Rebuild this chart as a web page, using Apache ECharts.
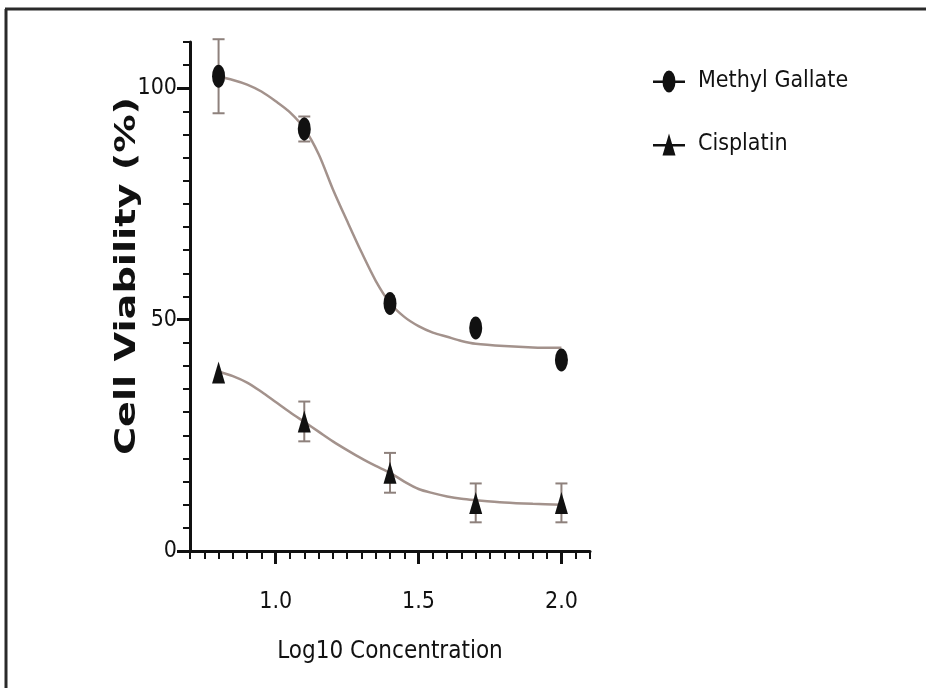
<!DOCTYPE html>
<html>
<head>
<meta charset="utf-8">
<script src="https://cdn.jsdelivr.net/npm/echarts@6/dist/echarts.min.js"></script>
<style>
  html, body { margin: 0; padding: 0; background: #fff; }
  #chart { width: 926px; height: 688px; }
</style>
</head>
<body>
<div id="chart"></div>
<script>
// ---- data ----
const seriesNames = ['Methyl Gallate', 'Cisplatin'];
const xValues = [0.8, 1.1, 1.4, 1.7, 2.0];
const mgMean = [102.6, 91.2, 53.5, 48.2, 41.3];
const mgErr  = [8.0, 2.7, 0, 0, 0];
const cisMean = [38.6, 28.0, 16.9, 10.4, 10.4];
const cisErr  = [0, 4.3, 4.3, 4.2, 4.2];

// fitted curves
const mgCurveX = [0.8, 0.85, 0.9, 0.95, 1.0, 1.05, 1.1, 1.15, 1.2, 1.25, 1.3, 1.35, 1.4, 1.45, 1.5, 1.55, 1.6, 1.65, 1.7, 1.8, 1.9, 2.0];
const mgCurveY = [102.5, 101.8, 100.8, 99.3, 97.2, 94.8, 91.3, 85.8, 78.2, 71.3, 64.6, 58.4, 53.6, 50.6, 48.6, 47.2, 46.3, 45.4, 44.8, 44.3, 44.0, 43.9];
const cisCurveX = [0.8, 0.85, 0.9, 0.95, 1.0, 1.05, 1.1, 1.15, 1.2, 1.25, 1.3, 1.35, 1.4, 1.45, 1.5, 1.55, 1.6, 1.65, 1.7, 1.8, 1.9, 2.0];
const cisCurveY = [38.8, 37.8, 36.4, 34.4, 32.2, 30.0, 27.9, 25.8, 23.7, 21.8, 20.0, 18.4, 16.9, 15.0, 13.4, 12.5, 11.8, 11.3, 11.0, 10.5, 10.2, 10.0];

// axis ticks
const xMajorTicks = [1.0, 1.5, 2.0];
const yMajorTicks = [0, 50, 100];
const xMin = 0.7, xMax = 2.1, xMinorStep = 0.05;
const yMin = 0, yMax = 110, yMinorStep = 5;
const xTitle = 'Log10 Concentration';
const yTitle = 'Cell Viability (%)';

// ---- build ----
const xMinorTicks = [];
for (let i = 0; xMin + i * xMinorStep <= xMax + 1e-9; i++) xMinorTicks.push(Math.round((xMin + i * xMinorStep) * 100) / 100);
const yMinorTicks = [];
for (let v = yMin; v <= yMax + 1e-9; v += yMinorStep) yMinorTicks.push(v);

const narrow = "'Liberation Sans Narrow', 'DejaVu Sans Condensed', 'Liberation Sans', sans-serif";
const ink = '#111';
const curveColor = '#a3928c';
const errColor = '#8e817c';

// legend icons: short line through the marker
const iconEllipse = 'path://M0,10 L32,10 L32,12.6 L0,12.6 Z M16,0 A6.5,11 0 1,1 15.99,0 Z';
const iconTriangle = 'path://M0,10.5 L32,10.5 L32,13 L0,13 Z M16,0 L22.5,22 L9.5,22 Z';

const zip = (a, b) => a.map((v, i) => [v, b[i]]);
const zip3 = (a, b, c) => a.map((v, i) => [v, b[i], c[i]]);

function errRender(params, api) {
  const x = api.value(0), y = api.value(1), e = api.value(2);
  if (!e) return null;
  const top = api.coord([x, y + e]);
  const bot = api.coord([x, y - e]);
  const hw = 6;
  const st = { stroke: errColor, lineWidth: 2 };
  return {
    type: 'group',
    children: [
      { type: 'line', shape: { x1: top[0], y1: top[1], x2: bot[0], y2: bot[1] }, style: st },
      { type: 'line', shape: { x1: top[0] - hw, y1: top[1], x2: top[0] + hw, y2: top[1] }, style: st },
      { type: 'line', shape: { x1: bot[0] - hw, y1: bot[1], x2: bot[0] + hw, y2: bot[1] }, style: st }
    ]
  };
}

const chart = echarts.init(document.getElementById('chart'), null, { renderer: 'canvas' });
const option = {
  backgroundColor: '#fff',
  animation: false,
  grid: { left: 190, right: 336, top: 42, bottom: 137, containLabel: false },
  graphic: [
    { type: 'line', shape: { x1: 5, y1: 9, x2: 926, y2: 9 }, style: { stroke: '#2a2a2a', lineWidth: 3 } },
    { type: 'line', shape: { x1: 6, y1: 9, x2: 6, y2: 688 }, style: { stroke: '#2a2a2a', lineWidth: 3 } },
    {
      type: 'text', x: 127, y: 276, rotation: Math.PI / 2, scaleX: 1.32,
      style: {
        text: yTitle, fill: ink, fontSize: 29, fontWeight: 'bold',
        fontFamily: "'DejaVu Sans', sans-serif", align: 'center', verticalAlign: 'middle'
      }
    }
  ],
  legend: {
    orient: 'vertical', left: 648, top: 65,
    itemWidth: 32, itemHeight: 22, itemGap: 40,
    data: [
      { name: seriesNames[0], icon: iconEllipse },
      { name: seriesNames[1], icon: iconTriangle }
    ],
    textStyle: { fontSize: 23, fontFamily: narrow, color: ink, padding: [0, 0, 0, 8] }
  },
  xAxis: [
    {
      type: 'value', min: xMin, max: xMax, position: 'bottom',
      axisLine: { show: true, onZero: false, lineStyle: { color: ink, width: 3 } },
      axisTick: { show: true, customValues: xMajorTicks, length: 13, lineStyle: { color: ink, width: 3 } },
      axisLabel: { customValues: xMajorTicks, formatter: v => v.toFixed(1), margin: 40, fontSize: 23, fontFamily: narrow, color: ink },
      splitLine: { show: false },
      name: xTitle, nameLocation: 'middle', nameGap: 89,
      nameTextStyle: { fontSize: 24, fontFamily: narrow, color: ink }
    },
    {
      type: 'value', min: xMin, max: xMax, position: 'bottom',
      axisLine: { show: false, onZero: false },
      axisTick: { show: true, customValues: xMinorTicks, length: 8, lineStyle: { color: ink, width: 2 } },
      axisLabel: { show: false },
      splitLine: { show: false }
    }
  ],
  yAxis: [
    {
      type: 'value', min: yMin, max: yMax, position: 'left',
      axisLine: { show: true, onZero: false, lineStyle: { color: ink, width: 3 } },
      axisTick: { show: true, customValues: yMajorTicks, length: 13, lineStyle: { color: ink, width: 3 } },
      axisLabel: { customValues: yMajorTicks, margin: 13, fontSize: 23, fontFamily: narrow, color: ink },
      splitLine: { show: false }
    },
    {
      type: 'value', min: yMin, max: yMax, position: 'left',
      axisLine: { show: false, onZero: false },
      axisTick: { show: true, customValues: yMinorTicks, length: 7, lineStyle: { color: ink, width: 2 } },
      axisLabel: { show: false },
      splitLine: { show: false }
    }
  ],
  series: [
    {
      name: 'MG fit', type: 'line', data: zip(mgCurveX, mgCurveY), smooth: 0.3,
      showSymbol: false, symbol: 'none', lineStyle: { color: curveColor, width: 2.5 }, z: 2, silent: true
    },
    {
      name: 'Cis fit', type: 'line', data: zip(cisCurveX, cisCurveY), smooth: 0.3,
      showSymbol: false, symbol: 'none', lineStyle: { color: curveColor, width: 2.5 }, z: 2, silent: true
    },
    { name: 'MG err', type: 'custom', renderItem: errRender, data: zip3(xValues, mgMean, mgErr), z: 3, silent: true },
    { name: 'Cis err', type: 'custom', renderItem: errRender, data: zip3(xValues, cisMean, cisErr), z: 3, silent: true },
    {
      name: seriesNames[0], type: 'scatter', data: zip(xValues, mgMean),
      symbol: 'circle', symbolSize: [13, 23],
      itemStyle: { color: ink, opacity: 1 }, z: 5
    },
    {
      name: seriesNames[1], type: 'scatter', data: zip(xValues, cisMean),
      symbol: 'triangle', symbolSize: [13, 22],
      itemStyle: { color: ink, opacity: 1 }, z: 5
    }
  ]
};
chart.setOption(option);
</script>
</body>
</html>
